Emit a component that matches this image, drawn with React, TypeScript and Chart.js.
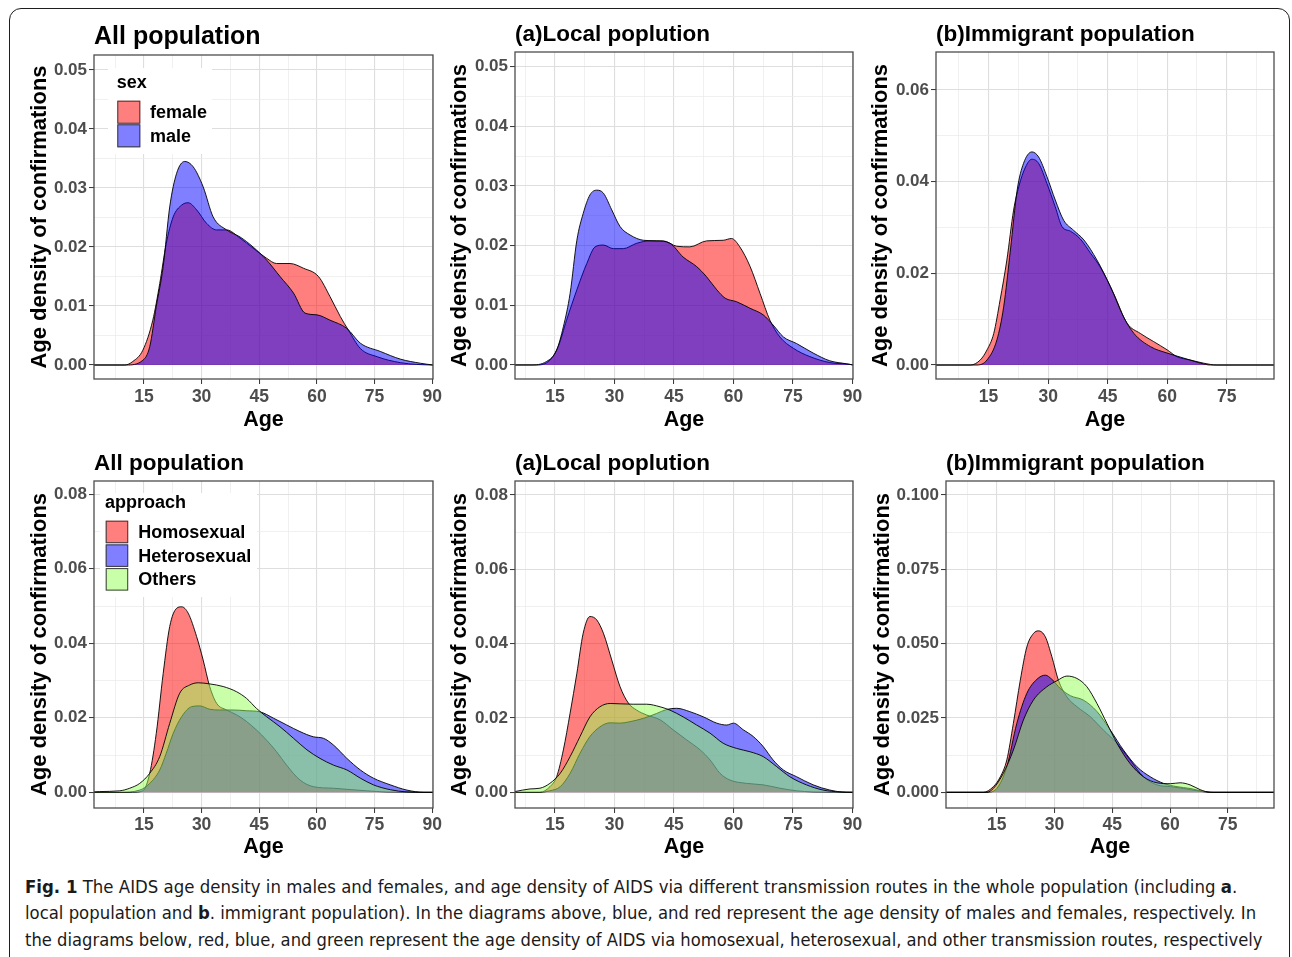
import React, { useEffect, useLayoutEffect, useRef } from 'react';
import { Chart, registerables } from 'chart.js';

Chart.register(...registerables);

const FONT = "'Liberation Sans', Arial, Helvetica, sans-serif";
const CAP_FONT = "'Liberation Sans Narrow', 'DejaVu Sans Condensed', 'Open Sans', sans-serif";

const RED = 'rgba(255,0,0,0.5)';
const BLUE = 'rgba(0,0,255,0.5)';
const GREEN = 'rgba(150,255,85,0.5)';

// ---------- tick values ----------
const X_MAJOR_90 = [15, 30, 45, 60, 75, 90];
const X_MAJOR_75 = [15, 30, 45, 60, 75];
const X_MINOR = [7.5, 22.5, 37.5, 52.5, 67.5, 82.5];
const Y_MAJOR_A = [0, 0.01, 0.02, 0.03, 0.04, 0.05];
const Y_MINOR_A = [0.005, 0.015, 0.025, 0.035, 0.045];
const Y_MAJOR_B = [0, 0.02, 0.04, 0.06];
const Y_MINOR_B = [0.01, 0.03, 0.05];
const Y_MAJOR_C = [0, 0.02, 0.04, 0.06, 0.08];
const Y_MINOR_C = [0.01, 0.03, 0.05, 0.07];
const Y_MAJOR_D = [0, 0.025, 0.05, 0.075, 0.1];
const Y_MINOR_D = [0.0125, 0.0375, 0.0625, 0.0875];

// ---------- Panel 1: All population, sex ----------
const allFemaleAge = [2, 10, 12.1, 14.7, 17.3, 19.1, 20.8, 22.6, 24.8, 26.5, 28.7, 31.3, 33.9, 36.5, 40.0, 43.4, 46.9, 49.5, 53.0, 56.5, 60.4, 63.4, 66.1, 68.2, 71.3, 75.7, 81.7, 86, 90.2];
const allFemaleDen = [0, 0, 0.0006, 0.0025, 0.0076, 0.0138, 0.0206, 0.0251, 0.0271, 0.0275, 0.0263, 0.0240, 0.0229, 0.0229, 0.0215, 0.0198, 0.0181, 0.0172, 0.0172, 0.0164, 0.0150, 0.0116, 0.0082, 0.0059, 0.0028, 0.0014, 0.0004, 0.0001, 0];
const allMaleAge = [2, 10.4, 14.7, 16.5, 18.2, 20.0, 21.7, 23.5, 25.6, 27.8, 30.4, 33.0, 36.5, 40.0, 43.4, 46.9, 50.4, 53.9, 56.9, 60.0, 63.4, 67.8, 71.3, 76.5, 81.7, 86.9, 90.2];
const allMaleDen = [0, 0, 0.0008, 0.0031, 0.0099, 0.0167, 0.0268, 0.0325, 0.0345, 0.0336, 0.0302, 0.0251, 0.0229, 0.0217, 0.0200, 0.0178, 0.0150, 0.0122, 0.0088, 0.0085, 0.0076, 0.0062, 0.0037, 0.0023, 0.0010, 0.0003, 0];

// ---------- Panel 2: Local population, sex ----------
const locFemaleAge = [4.9, 10.4, 13.7, 15.8, 17.9, 20.5, 23.0, 25.1, 27.2, 29.7, 32.2, 35.6, 38.9, 42.3, 45.7, 49.0, 53.2, 57.4, 59.5, 61.6, 64.2, 66.7, 69.2, 71.7, 75.1, 79.3, 84.3, 89.4, 90.15];
const locFemaleDen = [0, 0, 0.0008, 0.0031, 0.0075, 0.0126, 0.0170, 0.0198, 0.0201, 0.0195, 0.0195, 0.0204, 0.0208, 0.0208, 0.0199, 0.0198, 0.0208, 0.0209, 0.0212, 0.0198, 0.0165, 0.0120, 0.0075, 0.0047, 0.0028, 0.0014, 0.0004, 0.0001, 0];
const locMaleAge = [4.9, 8.7, 12.9, 15.4, 17.1, 18.8, 20.5, 22.1, 23.8, 25.5, 27.2, 29.3, 31.4, 33.9, 37.3, 40.6, 44.0, 47.3, 50.7, 53.2, 55.8, 57.9, 60.8, 64.2, 67.5, 70.0, 72.6, 75.9, 80.1, 84.3, 88.5, 90.15];
const locMaleDen = [0, 0, 0.0006, 0.0025, 0.0064, 0.0120, 0.0209, 0.0254, 0.0285, 0.0293, 0.0288, 0.0260, 0.0232, 0.0218, 0.0209, 0.0208, 0.0204, 0.0181, 0.0165, 0.0148, 0.0126, 0.0112, 0.0106, 0.0095, 0.0084, 0.0067, 0.0047, 0.0036, 0.0020, 0.0007, 0.0002, 0];

// ---------- Panel 3: Immigrant population, sex ----------
const immFemaleAge = [1.75, 10.4, 12.9, 14.6, 16.3, 17.9, 19.6, 21.3, 22.6, 24.3, 25.9, 27.6, 29.7, 31.8, 33.5, 35.6, 38.1, 40.6, 43.1, 46.5, 49.9, 53.2, 56.6, 60.0, 62.5, 65.8, 69.2, 72.5, 86.9];
const immFemaleDen = [0, 0, 0.0011, 0.0033, 0.0069, 0.0142, 0.0229, 0.0338, 0.0389, 0.0432, 0.0449, 0.0440, 0.0396, 0.0345, 0.0302, 0.0292, 0.0275, 0.0245, 0.0214, 0.0156, 0.0091, 0.0069, 0.0051, 0.0033, 0.0018, 0.0011, 0.0004, 0, 0];
const immMaleAge = [1.75, 12.1, 14.6, 17.1, 18.8, 20.5, 22.2, 23.8, 25.9, 27.6, 29.7, 31.8, 33.9, 36.4, 39.0, 42.3, 45.7, 49.0, 51.6, 55.8, 60.0, 64.2, 68.4, 70.9, 86.9];
const immMaleDen = [0, 0, 0.0011, 0.0055, 0.0127, 0.0251, 0.0382, 0.0440, 0.0465, 0.0454, 0.0411, 0.0360, 0.0316, 0.0294, 0.0273, 0.0229, 0.0171, 0.0105, 0.0069, 0.0040, 0.0026, 0.0015, 0.0004, 0, 0];

// ---------- Panel 4: All population, approach ----------
const allHomoAge = [2, 12, 14.7, 16.5, 18.2, 20.0, 21.7, 23.5, 24.8, 26.5, 28.7, 30.4, 32.1, 33.9, 36.5, 39.1, 41.7, 44.3, 46.9, 49.5, 52.1, 55.6, 59.1, 64.3, 67.8, 73.0, 78.2, 90.2];
const allHomoDen = [0, 0, 0.0004, 0.0051, 0.0158, 0.0319, 0.0445, 0.0494, 0.0498, 0.0481, 0.0418, 0.0355, 0.0284, 0.0239, 0.0221, 0.0208, 0.0190, 0.0167, 0.0140, 0.0109, 0.0073, 0.0033, 0.0015, 0.0011, 0.0008, 0.0004, 0.0001, 0];
const allHeteroAge = [2, 8.7, 13.9, 16.5, 19.1, 20.8, 22.6, 24.8, 27.4, 29.5, 32.1, 34.7, 38.2, 41.7, 45.2, 48.7, 52.1, 55.6, 59.1, 61.7, 64.3, 67.8, 71.3, 74.7, 79.1, 83.4, 87.8, 90.2];
const allHeteroDen = [0, 0, 0.0006, 0.0024, 0.0060, 0.0105, 0.0158, 0.0203, 0.0230, 0.0232, 0.0223, 0.0221, 0.0221, 0.0219, 0.0216, 0.0199, 0.0181, 0.0163, 0.0149, 0.0145, 0.0127, 0.0091, 0.0060, 0.0038, 0.0020, 0.0006, 0, 0];
const allOtherAge = [2, 3.5, 8.7, 11.3, 13.9, 16.5, 19.1, 21.7, 24.3, 26.9, 29.1, 32.1, 35.6, 39.1, 41.7, 44.3, 46.9, 50.4, 53.9, 57.4, 60.8, 64.3, 67.8, 71.3, 74.7, 79.1, 83.4, 88, 90.2];
const allOtherDen = [0.0001, 0.0002, 0.0004, 0.0011, 0.0024, 0.0051, 0.0096, 0.0185, 0.0266, 0.0288, 0.0294, 0.0291, 0.0284, 0.0270, 0.0252, 0.0225, 0.0203, 0.0176, 0.0145, 0.0114, 0.0091, 0.0073, 0.0060, 0.0038, 0.0020, 0.0007, 0.0001, 0, 0];

// ---------- Panel 5: Local population, approach ----------
const locHomoAge = [4.9, 11.2, 13.7, 15.4, 17.1, 18.8, 20.5, 22.1, 23.8, 25.5, 27.2, 29.3, 31.4, 33.5, 35.6, 38.1, 41.5, 44.8, 48.2, 51.6, 54.1, 56.6, 59.1, 63.3, 67.5, 71.7, 75.9, 80.1, 90.15];
const locHomoDen = [0, 0, 0.0015, 0.0042, 0.0114, 0.0213, 0.0320, 0.0428, 0.0473, 0.0464, 0.0428, 0.0356, 0.0284, 0.0240, 0.0221, 0.0208, 0.0195, 0.0168, 0.0141, 0.0114, 0.0087, 0.0051, 0.0033, 0.0024, 0.0020, 0.0011, 0.0004, 0.0001, 0];
const locHeteroAge = [4.9, 11.2, 13.7, 16.3, 18.8, 21.3, 23.8, 26.3, 28.9, 31.4, 33.9, 37.3, 40.6, 43.2, 45.7, 49.0, 52.4, 55.8, 58.3, 60.0, 62.5, 65.0, 67.5, 70.0, 72.6, 75.9, 80.1, 84.3, 88.5, 90.15];
const locHeteroDen = [0, 0, 0.0004, 0.0015, 0.0051, 0.0105, 0.0150, 0.0176, 0.0187, 0.0186, 0.0190, 0.0199, 0.0212, 0.0223, 0.0226, 0.0217, 0.0203, 0.0186, 0.0181, 0.0186, 0.0168, 0.0150, 0.0123, 0.0087, 0.0060, 0.0042, 0.0020, 0.0006, 0, 0];
const locOtherAge = [4.9, 8.7, 11.2, 13.7, 16.3, 18.8, 21.3, 23.8, 26.3, 28.9, 31.4, 34.7, 38.1, 41.5, 44.0, 47.3, 50.7, 54.1, 57.4, 60.8, 64.2, 67.5, 70.9, 74.2, 78.4, 82.6, 86.8, 90.15];
const locOtherDen = [0.0002, 0.0009, 0.0011, 0.0024, 0.0051, 0.0096, 0.0150, 0.0203, 0.0230, 0.0239, 0.0238, 0.0237, 0.0237, 0.0230, 0.0221, 0.0203, 0.0181, 0.0159, 0.0132, 0.0118, 0.0109, 0.0096, 0.0069, 0.0042, 0.0020, 0.0006, 0.0001, 0];

// ---------- Panel 6: Immigrant population, approach ----------
const immHomoAge = [1.8, 11.5, 14.1, 15.9, 17.6, 19.3, 21.1, 22.8, 24.5, 25.8, 27.6, 29.3, 31.0, 33.2, 35.8, 39.3, 42.7, 46.2, 49.6, 53.1, 56.6, 60.1, 63.5, 67.0, 70.5, 87.0];
const immHomoDen = [0, 0, 0.0019, 0.0052, 0.0109, 0.0232, 0.0377, 0.0489, 0.0534, 0.0543, 0.0523, 0.0456, 0.0377, 0.0321, 0.0288, 0.0254, 0.0209, 0.0165, 0.0109, 0.0052, 0.0025, 0.0019, 0.0013, 0.0005, 0, 0];
const immHeteroAge = [1.8, 12.4, 15.0, 17.6, 20.2, 22.8, 25.4, 27.6, 29.3, 31.5, 34.1, 37.5, 41.0, 44.5, 47.9, 51.4, 54.9, 58.3, 61.8, 65.2, 68.7, 71.3, 87.0];
const immHeteroDen = [0, 0, 0.0013, 0.0086, 0.0232, 0.0333, 0.0380, 0.0394, 0.0380, 0.0349, 0.0325, 0.0310, 0.0272, 0.0209, 0.0142, 0.0086, 0.0052, 0.0030, 0.0019, 0.0013, 0.0003, 0, 0];
const immOtherAge = [1.8, 12.4, 14.1, 16.7, 19.3, 21.9, 24.5, 28.0, 30.6, 33.2, 35.8, 38.4, 41.0, 43.6, 46.2, 49.6, 53.1, 56.6, 60.1, 62.6, 65.2, 67.8, 70.5, 87.0];
const immOtherDen = [0, 0, 0.0013, 0.0064, 0.0142, 0.0243, 0.0310, 0.0355, 0.0375, 0.0391, 0.0383, 0.0355, 0.0299, 0.0232, 0.0165, 0.0097, 0.0052, 0.0032, 0.0029, 0.0032, 0.0025, 0.0009, 0, 0];

// ---------- caption ----------
const CAPTION_WIDTHS = [1212, 1231, 1238];

type Series = { label: string; ages: number[]; dens: number[]; fill: string; order: number };
type LegendCfg = { title: string; bg: number[]; titleX: number; titleY: number; keyX: number; keyY: number; keySize: number; keyStep: number; labelX: number };
type PanelCfg = {
  key: string; title: string; titleSize: number;
  plot: number[]; xMin: number; xMax: number; yMin: number; yMax: number;
  xMajor: number[]; xMinor: number[]; yMajor: number[]; yMinor: number[]; yDec: number;
  yTitleGap: number; xTickPad: number; xTitlePad: number;
  series: Series[]; legend?: LegendCfg;
};

const sexSeries = (fa: number[], fd: number[], ma: number[], md: number[]): Series[] => [
  { label: 'female', ages: fa, dens: fd, fill: RED, order: 2 },
  { label: 'male', ages: ma, dens: md, fill: BLUE, order: 1 },
];
const routeSeries = (ha: number[], hd: number[], ea: number[], ed: number[], oa: number[], od: number[]): Series[] => [
  { label: 'Homosexual', ages: ha, dens: hd, fill: RED, order: 3 },
  { label: 'Heterosexual', ages: ea, dens: ed, fill: BLUE, order: 2 },
  { label: 'Others', ages: oa, dens: od, fill: GREEN, order: 1 },
];

const PANELS: PanelCfg[] = [
  {
    key: 'p1', title: 'All population', titleSize: 25,
    plot: [94, 55, 433, 379], xMin: 2.0, xMax: 90.2, yMin: -0.00237, yMax: 0.05254,
    xMajor: X_MAJOR_90, xMinor: X_MINOR, yMajor: Y_MAJOR_A, yMinor: Y_MINOR_A, yDec: 2,
    yTitleGap: 54.5, xTickPad: 2.8, xTitlePad: 7.9,
    series: sexSeries(allFemaleAge, allFemaleDen, allMaleAge, allMaleDen),
    legend: { title: 'sex', bg: [14, 13, 104, 86], titleX: 22.7, titleY: 33.3, keyX: 23.3, keyY: 45.7, keySize: 23, keyStep: 23.6, labelX: 56 },
  },
  {
    key: 'p2', title: '(a)Local poplution', titleSize: 22.5,
    plot: [515, 52, 853, 379], xMin: 4.9, xMax: 90.15, yMin: -0.00235, yMax: 0.05246,
    xMajor: X_MAJOR_90, xMinor: X_MINOR, yMajor: Y_MAJOR_A, yMinor: Y_MINOR_A, yDec: 2,
    yTitleGap: 55, xTickPad: 2.8, xTitlePad: 7.9,
    series: sexSeries(locFemaleAge, locFemaleDen, locMaleAge, locMaleDen),
  },
  {
    key: 'p3', title: '(b)Immigrant population', titleSize: 22.5,
    plot: [936, 52, 1274, 379], xMin: 1.75, xMax: 86.9, yMin: -0.00305, yMax: 0.0683,
    xMajor: X_MAJOR_75, xMinor: X_MINOR, yMajor: Y_MAJOR_B, yMinor: Y_MINOR_B, yDec: 2,
    yTitleGap: 55, xTickPad: 2.8, xTitlePad: 7.9,
    series: sexSeries(immFemaleAge, immFemaleDen, immMaleAge, immMaleDen),
  },
  {
    key: 'p4', title: 'All population', titleSize: 22.5,
    plot: [94, 481, 433, 808], xMin: 2.0, xMax: 90.2, yMin: -0.00421, yMax: 0.08357,
    xMajor: X_MAJOR_90, xMinor: X_MINOR, yMajor: Y_MAJOR_C, yMinor: Y_MINOR_C, yDec: 2,
    yTitleGap: 54, xTickPad: 1.5, xTitlePad: 10,
    series: routeSeries(allHomoAge, allHomoDen, allHeteroAge, allHeteroDen, allOtherAge, allOtherDen),
    legend: { title: 'approach', bg: [6, 12, 157, 104], titleX: 11, titleY: 27.3, keyX: 11.7, keyY: 39.7, keySize: 22.5, keyStep: 23.7, labelX: 44.3 },
  },
  {
    key: 'p5', title: '(a)Local poplution', titleSize: 22.5,
    plot: [515, 481, 853, 808], xMin: 4.9, xMax: 90.15, yMin: -0.00423, yMax: 0.08377,
    xMajor: X_MAJOR_90, xMinor: X_MINOR, yMajor: Y_MAJOR_C, yMinor: Y_MINOR_C, yDec: 2,
    yTitleGap: 55, xTickPad: 1.5, xTitlePad: 10,
    series: routeSeries(locHomoAge, locHomoDen, locHeteroAge, locHeteroDen, locOtherAge, locOtherDen),
  },
  {
    key: 'p6', title: '(b)Immigrant population', titleSize: 22.5,
    plot: [946, 481, 1274, 808], xMin: 1.8, xMax: 87.0, yMin: -0.00528, yMax: 0.10471,
    xMajor: X_MAJOR_75, xMinor: X_MINOR, yMajor: Y_MAJOR_D, yMinor: Y_MINOR_D, yDec: 3,
    yTitleGap: 63.5, xTickPad: 1.5, xTitlePad: 10,
    series: routeSeries(immHomoAge, immHomoDen, immHeteroAge, immHeteroDen, immOtherAge, immOtherDen),
  },
];

const PAD_LEFT = 100; // y axis width
const PAD_TOP = 50;
const PAD_RIGHT = 14;
const X_AXIS_H = 62;

function buildTicks(major: number[], minor: number[], lo: number, hi: number) {
  return [
    ...major.map((v) => ({ value: v, isMajor: true })),
    ...minor.map((v) => ({ value: v, isMajor: false })),
  ]
    .filter((t) => t.value >= lo && t.value <= hi)
    .sort((a, b) => a.value - b.value);
}

function decorPlugin(cfg: PanelCfg) {
  return {
    id: 'panelDecor',
    afterDatasetsDraw(chart: any) {
      const { ctx, chartArea: a } = chart;
      ctx.save();
      const L = cfg.legend;
      if (L) {
        const x0 = a.left;
        const y0 = a.top;
        ctx.fillStyle = '#ffffff';
        ctx.fillRect(x0 + L.bg[0], y0 + L.bg[1], L.bg[2], L.bg[3]);
        ctx.font = `bold 18px ${FONT}`;
        ctx.fillStyle = '#000';
        ctx.textAlign = 'left';
        ctx.textBaseline = 'alphabetic';
        ctx.fillText(L.title, x0 + L.titleX, y0 + L.titleY);
        cfg.series.forEach((s, i) => {
          const kx = x0 + L.keyX;
          const ky = y0 + L.keyY + i * L.keyStep;
          ctx.fillStyle = s.fill;
          ctx.fillRect(kx, ky, L.keySize, L.keySize);
          ctx.strokeStyle = '#3a3a3a';
          ctx.lineWidth = 1;
          ctx.strokeRect(kx + 0.5, ky + 0.5, L.keySize - 1, L.keySize - 1);
          ctx.fillStyle = '#000';
          ctx.textBaseline = 'middle';
          ctx.fillText(s.label, x0 + L.labelX, ky + L.keySize / 2 + 1);
        });
      }
      ctx.strokeStyle = '#4d4d4d';
      ctx.lineWidth = 1.3;
      ctx.strokeRect(a.left, a.top, a.right - a.left, a.bottom - a.top);
      ctx.restore();
    },
    afterDraw(chart: any) {
      const { ctx, chartArea: a } = chart;
      ctx.save();
      ctx.font = `bold ${cfg.titleSize}px ${FONT}`;
      ctx.fillStyle = '#000';
      ctx.textAlign = 'left';
      ctx.textBaseline = 'alphabetic';
      ctx.fillText(cfg.title, a.left, a.top - 11);
      ctx.restore();
    },
  };
}

const gridColor = (c: any) => (c.tick && c.tick.isMajor ? '#dedede' : '#ececec');
const gridWidth = (c: any) => (c.tick && c.tick.isMajor ? 1.1 : 0.8);
const tickColor = (c: any) => (c.tick && c.tick.isMajor ? '#333333' : 'rgba(0,0,0,0)');

function Panel({ cfg }: { cfg: PanelCfg }) {
  const ref = useRef<HTMLCanvasElement>(null);
  const [l, t, r, b] = cfg.plot;
  const width = PAD_LEFT + (r - l) + PAD_RIGHT;
  const height = PAD_TOP + (b - t) + X_AXIS_H;

  useEffect(() => {
    if (!ref.current) return;
    const yTitleSize = 22;
    const yTitlePadTop = PAD_LEFT - cfg.yTitleGap - (yTitleSize * 1.2) / 2;
    const chart = new Chart(ref.current, {
      type: 'line',
      data: {
        datasets: cfg.series.map((s) => ({
          label: s.label,
          data: s.ages.map((a, i) => ({ x: a, y: s.dens[i] })),
          fill: 'origin',
          backgroundColor: s.fill,
          borderColor: 'rgba(0,0,0,0.9)',
          borderWidth: 1,
          pointRadius: 0,
          tension: 0.4,
          cubicInterpolationMode: 'monotone',
          order: s.order,
        })),
      },
      options: {
        animation: false,
        responsive: false,
        maintainAspectRatio: false,
        events: [],
        layout: { padding: { left: 0, top: PAD_TOP, right: PAD_RIGHT, bottom: 0 } },
        plugins: { legend: { display: false }, tooltip: { enabled: false }, title: { display: false } },
        scales: {
          x: {
            type: 'linear',
            min: cfg.xMin,
            max: cfg.xMax,
            afterBuildTicks: (s: any) => {
              s.ticks = buildTicks(cfg.xMajor, cfg.xMinor, cfg.xMin, cfg.xMax);
            },
            afterFit: (s: any) => {
              s.height = X_AXIS_H;
            },
            ticks: {
              autoSkip: false,
              maxRotation: 0,
              padding: cfg.xTickPad,
              color: '#4d4d4d',
              font: { family: FONT, size: 17.5, weight: 'bold' },
              callback: (v: any, i: number, ticks: any[]) => (ticks[i] && ticks[i].isMajor ? String(v) : ''),
            },
            grid: { color: gridColor, lineWidth: gridWidth, tickColor: tickColor, tickLength: 5, tickWidth: 1 },
            border: { display: false },
            title: {
              display: true,
              text: 'Age',
              color: '#000',
              font: { family: FONT, size: 21.5, weight: 'bold' },
              padding: { top: 0, bottom: cfg.xTitlePad },
            },
          },
          y: {
            type: 'linear',
            min: cfg.yMin,
            max: cfg.yMax,
            afterBuildTicks: (s: any) => {
              s.ticks = buildTicks(cfg.yMajor, cfg.yMinor, cfg.yMin, cfg.yMax);
            },
            afterFit: (s: any) => {
              s.width = PAD_LEFT;
            },
            ticks: {
              autoSkip: false,
              padding: 2,
              color: '#4d4d4d',
              font: { family: FONT, size: 17, weight: 'bold' },
              callback: (v: any, i: number, ticks: any[]) =>
                ticks[i] && ticks[i].isMajor ? Number(v).toFixed(cfg.yDec) : '',
            },
            grid: { color: gridColor, lineWidth: gridWidth, tickColor: tickColor, tickLength: 5, tickWidth: 1 },
            border: { display: false },
            title: {
              display: true,
              text: 'Age density of confirmations',
              color: '#000',
              font: { family: FONT, size: yTitleSize, weight: 'bold' },
              padding: { top: yTitlePadTop, bottom: 0 },
            },
          },
        },
      } as any,
      plugins: [decorPlugin(cfg)],
    });
    return () => chart.destroy();
  }, [cfg]);

  return (
    <canvas
      ref={ref}
      width={width}
      height={height}
      style={{ position: 'absolute', left: l - PAD_LEFT, top: t - PAD_TOP, width, height }}
    />
  );
}

function CaptionLine({ top, width, children }: { top: number; width: number; children: any }) {
  const ref = useRef<HTMLSpanElement>(null);
  useLayoutEffect(() => {
    const el = ref.current;
    if (!el) return;
    el.style.transform = 'none';
    const w = el.offsetWidth;
    if (w > 0) el.style.transform = `scaleX(${width / w})`;
  }, [width]);
  return (
    <span
      ref={ref}
      style={{
        position: 'absolute',
        left: 25,
        top,
        display: 'inline-block',
        whiteSpace: 'nowrap',
        transformOrigin: '0 0',
        fontFamily: CAP_FONT,
        fontSize: 18,
        lineHeight: '26px',
        color: '#1a1a1a',
      }}
    >
      {children}
    </span>
  );
}

export default function App() {
  return (
    <div
      style={{
        position: 'fixed',
        left: 0,
        top: 0,
        width: 1292,
        height: 957,
        overflow: 'hidden',
        background: '#ffffff',
      }}
    >
      <div
        style={{
          position: 'absolute',
          left: 9,
          top: 8,
          width: 1281,
          height: 1000,
          border: '1.5px solid #1e1e1e',
          borderRadius: 12,
          boxSizing: 'border-box',
        }}
      />
      {PANELS.map((p) => (
        <Panel key={p.key} cfg={p} />
      ))}
      <CaptionLine top={874} width={CAPTION_WIDTHS[0]}>
        <b>Fig. 1</b> The AIDS age density in males and females, and age density of AIDS via different transmission
        routes in the whole population (including <b>a</b>.
      </CaptionLine>
      <CaptionLine top={900} width={CAPTION_WIDTHS[1]}>
        local population and <b>b</b>. immigrant population). In the diagrams above, blue, and red represent the age
        density of males and females, respectively. In
      </CaptionLine>
      <CaptionLine top={927} width={CAPTION_WIDTHS[2]}>
        the diagrams below, red, blue, and green represent the age density of AIDS via homosexual, heterosexual, and
        other transmission routes, respectively
      </CaptionLine>
    </div>
  );
}
